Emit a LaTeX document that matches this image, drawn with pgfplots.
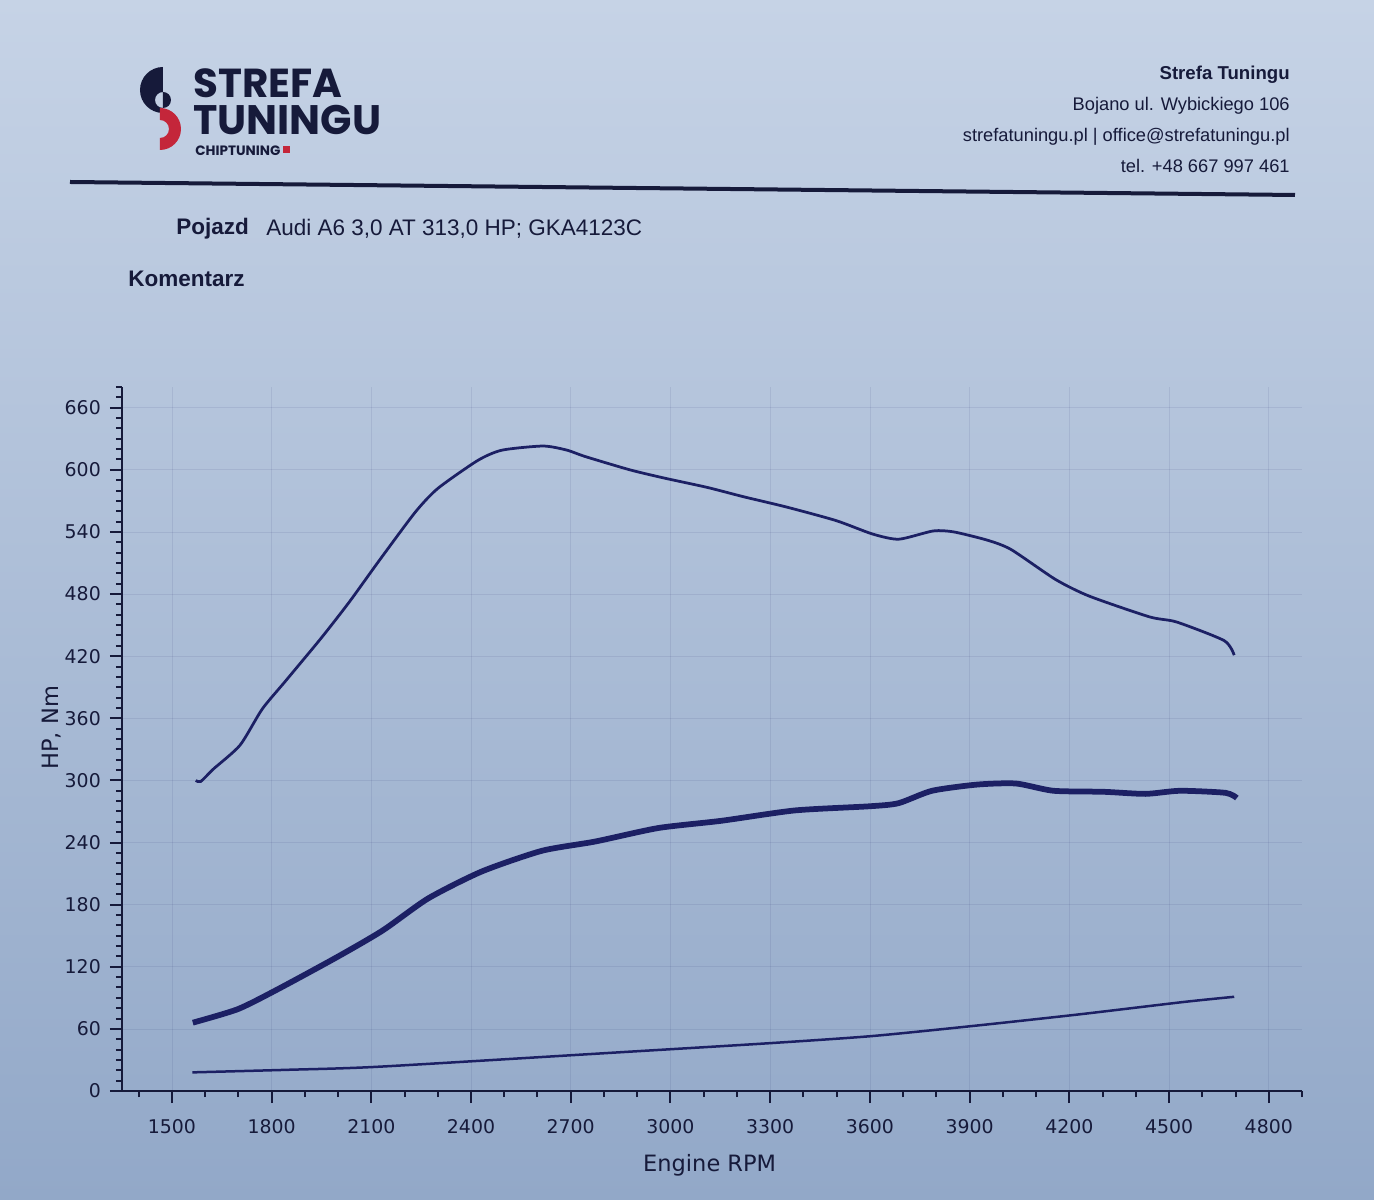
\documentclass[border=0pt]{standalone}
\usepackage{fontspec}
\setmainfont{Liberation Sans}
\newfontfamily\djv{DejaVu Sans}
\newfontfamily\pop{Poppins}
\usepackage{pgfplots}
\pgfplotsset{compat=1.18}
\definecolor{navy}{RGB}{28,32,100}
\definecolor{ink}{RGB}{22,26,58}
\definecolor{logored}{RGB}{196,38,58}
\definecolor{bgtop}{RGB}{198,211,230}
\definecolor{bgbot}{RGB}{146,168,200}

\pgfplotstableread{
rpm val
1572 300
1587 299
1625 311
1705 334
1772 369
1842 396
1948 437
2033 472
2123 512
2232 559
2300 582
2420 609
2493 619
2617 623
2689 619
2742 613
2878 600
2982 592
3111 583
3220 574
3350 564
3498 551
3608 538
3687 533
3791 541
3853 540
3954 532
4025 523
4159 494
4260 478
4441 458
4523 453
4666 435
4696 421
}\torque

\pgfplotstableread{
rpm val
1563 66
1698 79
1817 98
1995 129
2134 155
2271 186
2432 212
2613 232
2774 241
2963 254
3153 261
3374 271
3598 275
3686 278
3787 290
3923 296
4040 297
4152 290
4304 289
4429 287
4533 290
4670 288
4704 283
}\power

\pgfplotstableread{
rpm val
1562 18
1850 20.5
2125 23.5
2878 38
3289 46
3604 53
3915 63
4229 74
4544 86
4696 91
}\loss

\begin{document}
\begin{tikzpicture}
\useasboundingbox (0,0) rectangle (274.8mm,-240mm);
\begin{scope}[x=0.2mm,y=-0.2mm]
\shade[top color=bgtop,bottom color=bgbot] (0,0) rectangle (1374,1200);
% logo symbol
\fill[ink,even odd rule] (163,67) arc[start angle=270,end angle=90,radius=23] -- cycle (163,100) circle[radius=8];
\fill[logored] (160,108) arc[start angle=270,end angle=450,radius=21] -- (160,138) arc[start angle=90,end angle=-90,radius=9] -- cycle;
% logo text (one block)
\node[anchor=north west,inner sep=0,text=ink] at (193,68) {\vbox{\offinterlineskip
  \hbox{\resizebox{29.8mm}{!}{\pop\bfseries STREFA}}\kern1.5mm
  \hbox{\resizebox{37.6mm}{!}{\pop\bfseries TUNINGU}}\kern2.2mm
  \hbox{\kern0.4mm\resizebox{17mm}{!}{\pop\bfseries CHIPTUNING}}}};
\fill[logored] (283,146) rectangle (290,153);
% contact block
\node[anchor=base east,inner sep=0,text=ink,font=\fontsize{10.6}{12}\selectfont\bfseries] at (1290,80) {Strefa Tuningu};
\node[anchor=base east,inner sep=0,text=ink,font=\fontsize{10.4}{12}\selectfont] at (1290,111) {Bojano ul. Wybickiego 106};
\node[anchor=base east,inner sep=0,text=ink,font=\fontsize{10.4}{12}\selectfont] at (1290,142) {strefatuningu.pl | office@strefatuningu.pl};
\node[anchor=base east,inner sep=0,text=ink,font=\fontsize{10.4}{12}\selectfont] at (1290,173) {tel. +48 667 997 461};
% rule
\draw[ink,line width=0.8mm] (70,182) -- (1295,195);
% vehicle
\node[anchor=base west,inner sep=0,text=ink,font=\fontsize{12.8}{14}\selectfont\bfseries] at (176,235) {Pojazd};
\node[anchor=base west,inner sep=0,text=ink,font=\fontsize{12.8}{14}\selectfont] at (266,236) {Audi A6 3,0 AT 313,0 HP; GKA4123C};
\node[anchor=base west,inner sep=0,text=ink,font=\fontsize{12.8}{14}\selectfont\bfseries] at (128,287) {Komentarz};
\end{scope}
\begin{axis}[
  at={(24.4mm,-218.2mm)}, anchor=south west,
  width=236mm, height=140.8mm, scale only axis,
  xmin=1350, xmax=4900, ymin=0, ymax=680,
  axis x line=bottom, axis y line=left,
  axis line style={-, line width=0.5mm, ink},
  xtick={1500,1800,...,4800},
  minor xtick={1400,1500,...,4900},
  ytick={0,60,...,660},
  minor ytick={0,10,...,680},
  tick align=outside,
  major tick length=2.4mm, minor tick length=1.2mm,
  every tick/.style={line width=0.4mm, ink},
  grid=major,
  major grid style={navy, opacity=0.09, line width=0.4pt},
  /pgf/number format/assume math mode=true,
  /pgf/number format/1000 sep={},
  xticklabel style={font=\djv\fontsize{10.75}{12}\selectfont, text=ink, yshift=-2mm},
  yticklabel style={font=\djv\fontsize{10.75}{12}\selectfont, text=ink, xshift=-0.6mm},
  xlabel={Engine RPM},
  xlabel style={at={(axis description cs:0.498,-0.115)}, anchor=base, font=\djv\fontsize{12.8}{14}\selectfont, text=ink},
  ylabel={HP, Nm},
  ylabel style={at={(axis description cs:-0.054,0.516)}, anchor=base, font=\djv\fontsize{12.8}{14}\selectfont, text=ink},
]
\addplot[navy, line width=0.55mm, smooth, tension=0.4] table[x=rpm,y=val] {\torque};
\addplot[navy, line width=1.15mm, smooth, tension=0.4] table[x=rpm,y=val] {\power};
\addplot[navy, line width=0.5mm, smooth, tension=0.4] table[x=rpm,y=val] {\loss};
\end{axis}
\end{tikzpicture}
\end{document}
